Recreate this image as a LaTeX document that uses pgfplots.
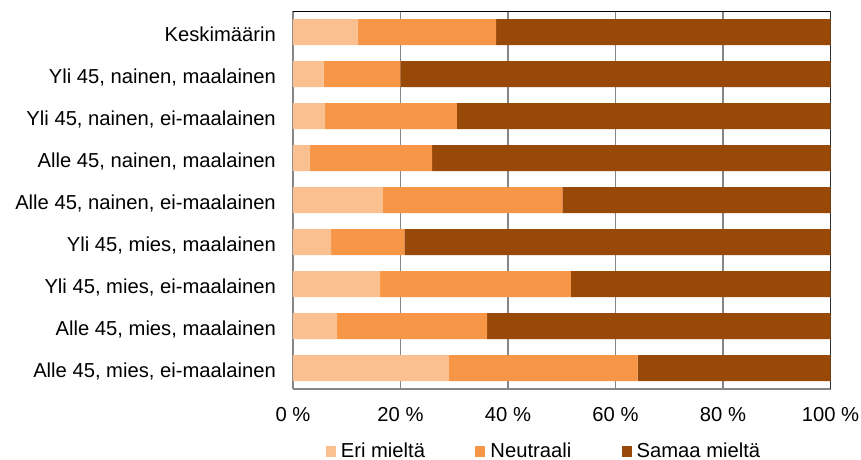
\documentclass[border=0pt]{standalone}
\usepackage{fontspec}
\setmainfont{Liberation Sans}
\usepackage{pgfplots}
\pgfplotsset{compat=1.18}

\definecolor{erimielta}{HTML}{FAC090}
\definecolor{neutraali}{HTML}{F79646}
\definecolor{samaa}{HTML}{984807}
\definecolor{gridgray}{HTML}{868686}

\newcommand{\chartfont}{\fontsize{20.2}{24}\selectfont}

\begin{document}
\begin{tikzpicture}
\begin{axis}[
  name=ax,
  at={(0pt,0pt)}, anchor=south west,
  scale only axis,
  width=537.5pt, height=378pt,
  xbar stacked,
  bar width=26pt,
  xmin=0, xmax=100,
  ymin=-0.5, ymax=8.5,
  axis x line*=bottom,
  axis y line*=left,
  axis line style={draw=gridgray, line width=1.3pt, -},
  xtick={0,20,40,60,80,100},
  xticklabels={0 \%,20 \%,40 \%,60 \%,80 \%,100 \%},
  ytick={0,1,2,3,4,5,6,7,8},
  yticklabels={
    {Alle 45, mies, ei-maalainen},
    {Alle 45, mies, maalainen},
    {Yli 45, mies, ei-maalainen},
    {Yli 45, mies, maalainen},
    {Alle 45, nainen, ei-maalainen},
    {Alle 45, nainen, maalainen},
    {Yli 45, nainen, ei-maalainen},
    {Yli 45, nainen, maalainen},
    {Keskimäärin}},
  major tick length=0pt,
  tick style={draw=none},
  xmajorgrids,
  major grid style={draw=gridgray, line width=1.1pt},
  tick label style={font=\chartfont, inner sep=0pt},
  xticklabel style={anchor=base, yshift=-32pt},
  yticklabel style={anchor=base east, xshift=-17pt, yshift=-9pt},
  legend columns=3,
  legend style={
    draw=none, fill=none, inner sep=0pt,
    font=\chartfont,
    at={(axis description cs:0.0608,-0.1627)}, anchor=west,
    /tikz/every odd column/.append style={column sep=5pt},
    /tikz/every even column/.append style={column sep=50.4pt},
    nodes={inner sep=0pt, anchor=base west},
  },
  legend image code/.code={\fill[#1] (0pt,0pt) rectangle (10pt,11pt);},
]
% Eri mieltä
\addplot[fill=erimielta, draw=none] coordinates {
  (29.0,0) (8.2,1) (16.2,2) (7.1,3) (16.7,4) (3.2,5) (6.0,6) (5.7,7) (12.1,8)};
% Neutraali
\addplot[fill=neutraali, draw=none] coordinates {
  (35.1,0) (27.9,1) (35.5,2) (13.6,3) (33.4,4) (22.7,5) (24.5,6) (14.3,7) (25.7,8)};
% Samaa mieltä
\addplot[fill=samaa, draw=none] coordinates {
  (35.9,0) (63.9,1) (48.3,2) (79.3,3) (49.9,4) (74.1,5) (69.5,6) (80.0,7) (62.2,8)};
\legend{Eri mieltä, Neutraali, Samaa mieltä}
\draw[black, line width=1.2pt] (rel axis cs:0,1) -- (rel axis cs:1,1) -- (rel axis cs:1,0);
\end{axis}
\pgfresetboundingbox
\useasboundingbox (ax.south west) ++(-293pt,-70pt) rectangle ++(861pt,459pt);
\end{tikzpicture}
\end{document}
